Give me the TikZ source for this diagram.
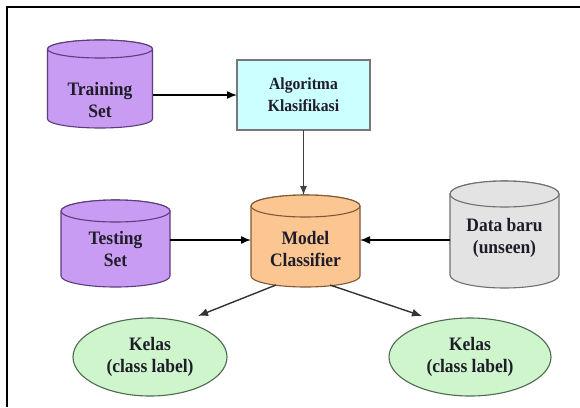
\documentclass[tikz,border=0pt]{standalone}
\usepackage{fontspec}
\newfontfamily\lblfont{Liberation Serif}[BoldFont={Liberation Serif Bold}, FakeStretch=0.92]
\usetikzlibrary{arrows.meta,calc,shapes.geometric}
\definecolor{purpfill}{RGB}{200,156,242}
\definecolor{purpline}{RGB}{94,60,126}
\definecolor{orfill}{RGB}{251,198,146}
\definecolor{orline}{RGB}{130,88,50}
\definecolor{grfill}{RGB}{227,227,227}
\definecolor{grline}{RGB}{112,112,112}
\definecolor{cyfill}{RGB}{204,255,255}
\definecolor{cyline}{RGB}{120,120,120}
\definecolor{gnfill}{RGB}{206,245,204}
\definecolor{gnline}{RGB}{80,105,80}
\definecolor{txt}{RGB}{30,28,40}
\newcommand\cyl[6]{% style, cx, top, bottom, half width, ry
  \path[#1] ({#2-#5},{#3-#6}) -- ({#2-#5},{#4+#6})
    arc[start angle=180,end angle=360,x radius=#5pt,y radius=#6pt]
    -- ({#2+#5},{#3-#6})
    arc[start angle=0,end angle=180,x radius=#5pt,y radius=#6pt] -- cycle;
  \path[#1] (#2,{#3-#6}) ellipse[x radius=#5pt,y radius=#6pt];
}
\begin{document}
\begin{tikzpicture}[x=1pt,y=1pt,
  lbl/.style={font=\lblfont\fontsize{19}{22}\selectfont\bfseries, text=txt, align=center, inner sep=0pt, outer sep=0pt},
  cyltext/.style={lbl, rectangle, draw=none, minimum width=#1},
  purp/.style={draw=purpline, fill=purpfill, line width=1.1pt},
  oran/.style={draw=orline, fill=orfill, line width=1.1pt},
  grey/.style={draw=grline, fill=grfill, line width=1.1pt},
  boxstyle/.style={lbl, font=\lblfont\fontsize{17}{22}\selectfont\bfseries, rectangle, draw=cyline, fill=cyfill, line width=1.2pt, minimum width=133pt, minimum height=70pt},
  kelas/.style={lbl, ellipse, draw=gnline, fill=gnfill, line width=1.1pt, minimum height=78pt},
  arr/.style={draw=black, line width=1.5pt, -{Latex[length=10pt,width=8pt]}},
  thinarr/.style={draw=black!75, line width=1.1pt, -{Latex[length=9pt,width=7pt]}},
  diagarr/.style={draw=black!80, line width=1.4pt, -{Latex[length=10pt,width=8pt]}}]
\useasboundingbox (0,0) rectangle (580,-407);
\fill[white] (0,0) rectangle (580,-407);
% frame
\draw[line width=2pt] (7,-407) -- (7,-7) -- (580,-7);
% cylinders
\cyl{purp}{100}{-40}{-128}{52.5}{9}
\cyl{purp}{115.5}{-200}{-287}{54.5}{11}
\cyl{oran}{305.5}{-195}{-287}{54.5}{11}
\cyl{grey}{504.5}{-181}{-288}{54.5}{13}
% nodes
\node[cyltext=105pt] (train) at (100,-100) {Training\\Set};
\node[cyltext=109pt] (test) at (115.5,-249) {Testing\\Set};
\node[cyltext=109pt] (model) at (305.5,-249) {Model\\Classifier};
\node[cyltext=109pt] (data) at (504.5,-238) {Data baru\\(unseen)};
\node[boxstyle] (algo) at (303.5,-95) {Algoritma\\Klasifikasi};
\node[kelas, minimum width=154pt] (kelasL) at (150,-357) {Kelas\\(class label)};
\node[kelas, minimum width=162pt] (kelasR) at (470,-357) {Kelas\\(class label)};
% helper coordinates
\coordinate (mtop) at (305.5,-195);
\coordinate (mL) at ([yshift=9pt]model.west);
\coordinate (mR) at ([yshift=9pt]model.east);
\coordinate (sL) at (276,-285);
\coordinate (sR) at (330,-285);
\coordinate (eL) at ($(kelasL)+(48,41)$);
\coordinate (eR) at ($(kelasR)+(-48,41)$);
% connectors
\draw[arr] (algo.west -| train.east) -- (algo.west);
\draw[thinarr] (algo.south) -- (algo.south |- mtop);
\draw[arr] (test.east |- mL) -- (mL);
\draw[arr] (data.west |- mR) -- (mR);
\draw[diagarr] (sL) -- (eL);
\draw[diagarr] (sR) -- (eR);
\end{tikzpicture}
\end{document}
